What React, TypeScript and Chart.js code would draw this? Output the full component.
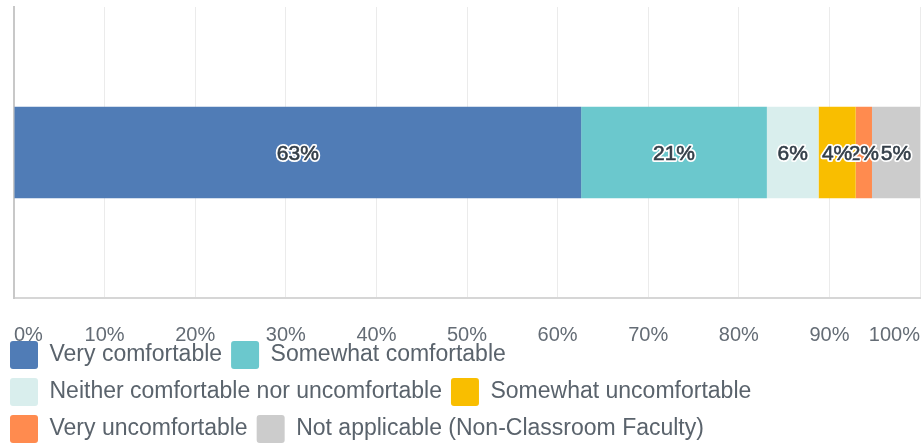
import React, { useEffect, useRef } from "react";
import { Chart, registerables } from "chart.js";

Chart.register(...registerables);

const categories = ["Comfort level"];
const seriesNames = [
  "Very comfortable",
  "Somewhat comfortable",
  "Neither comfortable nor uncomfortable",
  "Somewhat uncomfortable",
  "Very uncomfortable",
  "Not applicable (Non-Classroom Faculty)",
];
const seriesValues = [62.6, 20.5, 5.7, 4.1, 1.8, 5.3];
const valueLabels = ["63%", "21%", "6%", "4%", "2%", "5%"];
const seriesColors = ["#507cb6", "#6bc8cd", "#d9eeed", "#f9be00", "#ff8b4f", "#cccccc"];
const tickValues = [0, 10, 20, 30, 40, 50, 60, 70, 80, 90, 100];

const FONT = "'Liberation Sans', Arial, sans-serif";

const valueLabelPlugin = {
  id: "valueLabels",
  afterDatasetsDraw(chart: any) {
    const ctx = chart.ctx;
    ctx.save();
    ctx.font = `21px ${FONT}`;
    ctx.textAlign = "center";
    ctx.textBaseline = "middle";
    ctx.lineJoin = "round";
    for (let i = chart.data.datasets.length - 1; i >= 0; i--) {
      const meta = chart.getDatasetMeta(i);
      const el: any = meta.data[0];
      if (!el) continue;
      const cx = (el.x + el.base) / 2;
      const cy = el.y + 2;
      const text = valueLabels[i];
      ctx.strokeStyle = "#ffffff";
      ctx.lineWidth = 4;
      ctx.strokeText(text, cx, cy);
      ctx.fillStyle = "#333e48";
      ctx.fillText(text, cx, cy);
      ctx.strokeStyle = "#333e48";
      ctx.lineWidth = 0.6;
      ctx.strokeText(text, cx, cy);
    }
    ctx.restore();
  },
};

const axisClipPlugin = {
  id: "axisClip",
  afterLayout(chart: any) {
    const x = chart.scales.x;
    if (x) x.bottom = x.top + 60;
  },
};

export default function App() {
  const ref = useRef<HTMLCanvasElement | null>(null);

  useEffect(() => {
    if (!ref.current) return;
    const chart = new Chart(ref.current, {
      type: "bar",
      data: {
        labels: categories,
        datasets: seriesNames.map((name, i) => ({
          label: name,
          data: [seriesValues[i]],
          backgroundColor: seriesColors[i],
          borderWidth: 0,
          barPercentage: 1,
          categoryPercentage: 0.315,
        })),
      },
      options: {
        indexAxis: "y",
        animation: false,
        responsive: false,
        maintainAspectRatio: false,
        layout: { padding: { left: 1, top: 7, right: 4, bottom: -8 } },
        scales: {
          x: {
            type: "linear",
            stacked: true,
            min: 0,
            max: 100,
            afterBuildTicks(scale: any) {
              scale.ticks = tickValues.map((v) => ({ value: v }));
            },
            afterFit(scale: any) {
              scale.height = 34;
              scale.paddingLeft = 0;
              scale.paddingRight = 0;
            },
            ticks: {
              stepSize: 10,
              align: "inner",
              padding: 25,
              color: "#646c75",
              font: { size: 20, family: FONT },
              callback: (v: any) => `${v}%`,
              maxRotation: 0,
            },
            grid: { color: "#ebebeb", lineWidth: 1, drawTicks: false },
            border: { display: true, color: "#d6d6d6", width: 2 },
          },
          y: {
            type: "category",
            stacked: true,
            afterFit(scale: any) {
              scale.width = 13;
            },
            ticks: { display: false },
            grid: { display: false, drawTicks: false },
            border: { display: true, color: "#c8c8c8", width: 2 },
          },
        },
        plugins: {
          tooltip: { enabled: false },
          legend: {
            position: "bottom",
            align: "start",
            labels: {
              boxWidth: 28,
              boxHeight: 28,
              padding: 9,
              useBorderRadius: true,
              borderRadius: 3,
              color: "#5a636c",
              font: { size: 23, family: FONT },
            },
          },
        },
      },
      plugins: [valueLabelPlugin, axisClipPlugin],
    } as any);
    return () => chart.destroy();
  }, []);

  return (
    <div style={{ position: "absolute", left: 0, top: 0, width: 924, height: 445 }}>
      <canvas ref={ref} width={924} height={445} style={{ width: 924, height: 445, display: "block" }} />
    </div>
  );
}
